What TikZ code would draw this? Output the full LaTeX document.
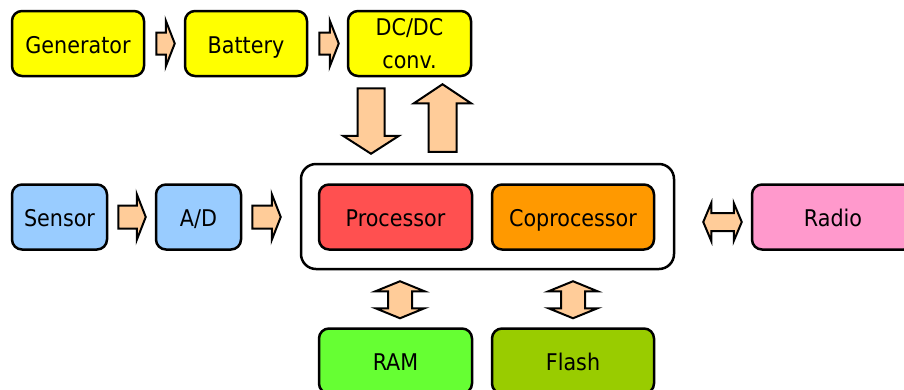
\documentclass[tikz,border=0pt]{standalone}
\usepackage{fontspec}
\setmainfont{DejaVu Sans Condensed}
\usetikzlibrary{calc}
\definecolor{supply}{HTML}{FFFF00}
\definecolor{sense}{HTML}{99CCFF}
\definecolor{proc}{HTML}{FF5050}
\definecolor{coproc}{HTML}{FF9900}
\definecolor{radiocol}{HTML}{FF99CC}
\definecolor{ramcol}{HTML}{66FF33}
\definecolor{flashcol}{HTML}{99CC00}
\definecolor{arrowfill}{HTML}{FFCC99}
\tikzset{
  box/.style={draw, line width=2.5pt, rounded corners=10pt, align=center, inner sep=0pt,
    font=\fontsize{23}{33}\selectfont, minimum height=65pt, text height=19.8pt, text depth=0pt},
  arr body/.initial=11pt,
  arr head/.initial=23pt,
  arr len/.initial=9pt,
  arr pre/.initial=11pt,
  arr post/.initial=9pt,
  fatarrow/.style={draw, fill=arrowfill, line width=2pt,
    to path={let \p1=($(\tikztostart)!\pgfkeysvalueof{/tikz/arr pre}!(\tikztotarget)$),
      \p2=($(\tikztotarget)!\pgfkeysvalueof{/tikz/arr post}!(\tikztostart)$),
      \n1={atan2(\y2-\y1,\x2-\x1)}, \n2={veclen(\x2-\x1,\y2-\y1)-\pgfkeysvalueof{/tikz/arr len}} in
      ($(\p1)+(\n1+90:\pgfkeysvalueof{/tikz/arr body})$)
      -- ($(\p1)+(\n1:\n2)+(\n1+90:\pgfkeysvalueof{/tikz/arr body})$)
      -- ($(\p1)+(\n1:\n2)+(\n1+90:\pgfkeysvalueof{/tikz/arr head})$)
      -- (\p2)
      -- ($(\p1)+(\n1:\n2)+(\n1-90:\pgfkeysvalueof{/tikz/arr head})$)
      -- ($(\p1)+(\n1:\n2)+(\n1-90:\pgfkeysvalueof{/tikz/arr body})$)
      -- ($(\p1)+(\n1-90:\pgfkeysvalueof{/tikz/arr body})$) -- cycle}},
  dblarrow/.style={draw, fill=arrowfill, line width=2pt,
    to path={let \p1=($(\tikztostart)!\pgfkeysvalueof{/tikz/arr pre}!(\tikztotarget)$),
      \p2=($(\tikztotarget)!\pgfkeysvalueof{/tikz/arr post}!(\tikztostart)$),
      \n1={atan2(\y2-\y1,\x2-\x1)}, \n2={veclen(\x2-\x1,\y2-\y1)-\pgfkeysvalueof{/tikz/arr len}},
      \n3={\pgfkeysvalueof{/tikz/arr len}} in
      (\p1)
      -- ($(\p1)+(\n1:\n3)+(\n1+90:\pgfkeysvalueof{/tikz/arr head})$)
      -- ($(\p1)+(\n1:\n3)+(\n1+90:\pgfkeysvalueof{/tikz/arr body})$)
      -- ($(\p1)+(\n1:\n2)+(\n1+90:\pgfkeysvalueof{/tikz/arr body})$)
      -- ($(\p1)+(\n1:\n2)+(\n1+90:\pgfkeysvalueof{/tikz/arr head})$)
      -- (\p2)
      -- ($(\p1)+(\n1:\n2)+(\n1-90:\pgfkeysvalueof{/tikz/arr head})$)
      -- ($(\p1)+(\n1:\n2)+(\n1-90:\pgfkeysvalueof{/tikz/arr body})$)
      -- ($(\p1)+(\n1:\n3)+(\n1-90:\pgfkeysvalueof{/tikz/arr body})$)
      -- ($(\p1)+(\n1:\n3)+(\n1-90:\pgfkeysvalueof{/tikz/arr head})$) -- cycle}}
}
\begin{document}
\begin{tikzpicture}[x=1pt,y=-1pt]
  \path[use as bounding box, clip] (0,0) rectangle (904,389);

  \node[box, fill=supply, minimum width=132pt] (gen) at (78,43.5) {Generator};
  \node[box, fill=supply, minimum width=122pt] (bat) at (246,43.5) {Battery};
  \node[box, fill=supply, minimum width=123pt, text height=, text depth=] (dc) at (409.5,43.5) {DC/DC\\conv.};

  \node[box, fill=sense, minimum width=95pt] (sen) at (59.5,217) {Sensor};
  \node[box, fill=sense, minimum width=85pt] (ad) at (198.5,217) {A/D};

  \node[box, rounded corners=15pt, minimum width=373pt, minimum height=105pt] (soc) at (487.5,216.5) {};
  \node[box, fill=proc, minimum width=153pt] (cpu) at (395.5,217) {Processor};
  \node[box, fill=coproc, minimum width=162pt] (cop) at (573,217) {Coprocessor};

  \node[box, fill=radiocol, minimum width=162pt] (radio) at (833,217) {Radio};
  \node[box, fill=ramcol, minimum width=153pt] (ram) at (395.5,361) {RAM};
  \node[box, fill=flashcol, minimum width=162pt] (flash) at (573,361) {Flash};

  \draw[fatarrow] (gen.east) to (bat.west);
  \draw[fatarrow, arr post=8pt] (bat.east) to (dc.west);
  \draw[fatarrow, arr pre=10pt, arr body=11.5pt] (sen.east) to (ad.west);
  \draw[fatarrow, arr pre=10pt, arr post=19pt, arr body=11.5pt] (ad.east) to (ad.east -| soc.west);

  \coordinate (dn) at ([xshift=-38.5pt]dc.south);
  \coordinate (up) at ([xshift=33pt]dc.south);
  \draw[fatarrow, arr body=13.5pt, arr head=28pt, arr len=18pt] (dn) to (dn |- soc.north);
  \draw[fatarrow, arr pre=11pt, arr post=7pt, arr body=14pt, arr head=28.5pt, arr len=19pt] (up |- soc.north) to (up);

  \coordinate (rd) at ([yshift=-5pt]radio.west);
  \coordinate (rm) at ([xshift=4.5pt]ram.north);
  \draw[dblarrow, arr pre=28pt, arr post=9pt, arr body=9pt, arr head=19pt, arr len=8pt] (rd -| soc.east) to (rd);
  \draw[dblarrow, arr body=12pt, arr head=24.5pt, arr len=10pt] (rm |- soc.south) to (rm);
  \draw[dblarrow, arr body=12pt, arr head=24.5pt, arr len=10pt] (flash.north |- soc.south) to (flash.north);
\end{tikzpicture}
\end{document}
